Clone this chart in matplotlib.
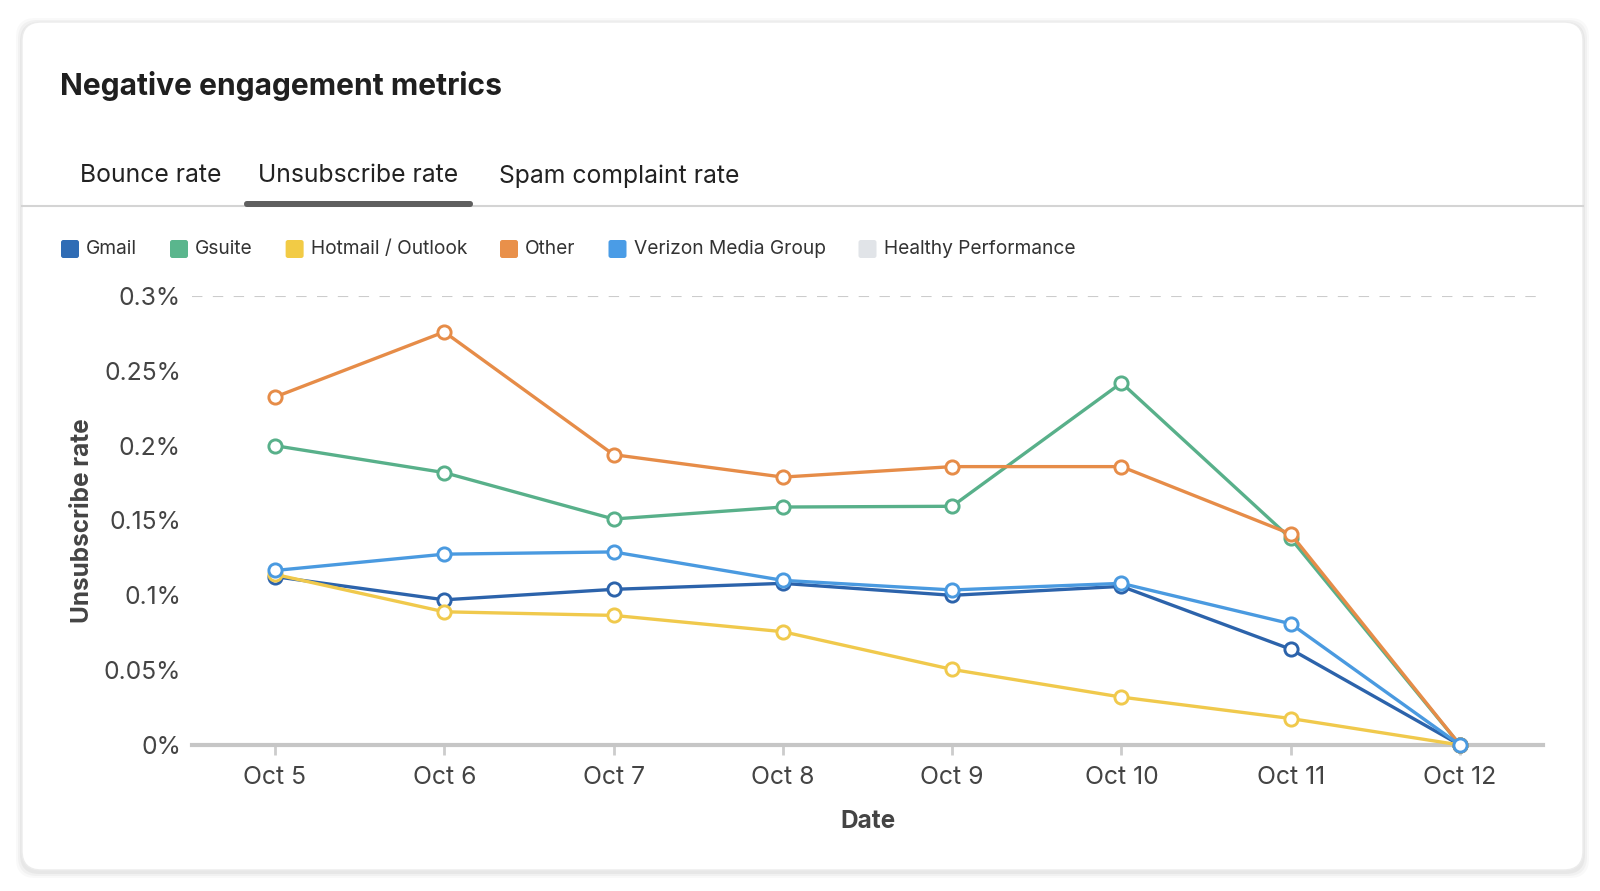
import matplotlib
matplotlib.use("Agg")
import matplotlib.pyplot as plt
from matplotlib.patches import FancyBboxPatch
from matplotlib.lines import Line2D

plt.rcParams['font.family'] = ['Inter', 'DejaVu Sans']

dates = ["Oct 5", "Oct 6", "Oct 7", "Oct 8", "Oct 9", "Oct 10", "Oct 11", "Oct 12"]
series_names = ["Gmail", "Gsuite", "Hotmail / Outlook", "Other", "Verizon Media Group"]
gmail = [0.1125, 0.097, 0.104, 0.108, 0.100, 0.106, 0.064, 0.0]
gsuite = [0.200, 0.182, 0.151, 0.159, 0.1595, 0.242, 0.138, 0.0]
hotmail = [0.114, 0.089, 0.0866, 0.0757, 0.0505, 0.032, 0.0177, 0.0]
other = [0.2325, 0.276, 0.194, 0.179, 0.186, 0.186, 0.141, 0.0]
verizon = [0.1166, 0.1275, 0.129, 0.110, 0.1036, 0.108, 0.081, 0.0]
y_ticks = [0, 0.05, 0.1, 0.15, 0.2, 0.25, 0.3]
y_tick_labels = ["0%", "0.05%", "0.1%", "0.15%", "0.2%", "0.25%", "0.3%"]
tabs = ["Bounce rate", "Unsubscribe rate", "Spam complaint rate"]
legend_names = series_names + ["Healthy Performance"]

colors = ["#2c63ab", "#58b08a", "#f0c94c", "#e68c48", "#4a9ae0"]
legend_colors = ["#2f6cb5", "#5ab68d", "#f2cb45", "#e9904a", "#4a9ce6", "#e1e4e8"]
values = [gmail, gsuite, hotmail, other, verizon]

W, H = 1600, 891
fig = plt.figure(figsize=(16, 8.91), dpi=100)
fig.patch.set_facecolor("white")

def fx(px):
    return px / W

def fy(py):
    return 1 - py / H

# card shadow + card
for i, a in enumerate([0.025, 0.03, 0.04]):
    off = 6 - 2 * i
    sh = FancyBboxPatch((fx(22 - off), fy(870 + off + 2)), fx(1561 + 2 * off), (848 + 2 * off) / H,
                        boxstyle="round,pad=0,rounding_size=0.012", transform=fig.transFigure,
                        facecolor="black", edgecolor="none", alpha=a, zorder=0,
                        mutation_aspect=W / H)
    fig.patches.append(sh)
card = FancyBboxPatch((fx(22), fy(870)), fx(1561), 848 / H,
                      boxstyle="round,pad=0,rounding_size=0.012", transform=fig.transFigure,
                      facecolor="white", edgecolor="#ececec", linewidth=1, zorder=1,
                      mutation_aspect=W / H)
fig.patches.append(card)

# title
fig.text(fx(60), fy(86), "Negative engagement metrics", fontsize=21.6, fontweight="bold",
         color="#1f1f1f", ha="left", va="center", zorder=3)

# tabs
tab_x = [80, 258, 499]
for t, x in zip(tabs, tab_x):
    fig.text(fx(x), fy(176), t, fontsize=17.8, color="#222222", ha="left", va="center", zorder=3)
fig.lines.append(Line2D([fx(22), fx(1583)], [fy(206), fy(206)], transform=fig.transFigure,
                        color="#d4d4d4", linewidth=1.5, zorder=2))
fig.patches.append(FancyBboxPatch((fx(244), fy(207)), fx(229), 6 / H,
                                  boxstyle="round,pad=0,rounding_size=0.002",
                                  transform=fig.transFigure, facecolor="#5f5f5f",
                                  edgecolor="none", zorder=3, mutation_aspect=W / H))

# axes
ax = fig.add_axes([fx(192), fy(745), fx(1543 - 192), (745 - 296) / H])
ax.set_zorder(4)
ax.patch.set_alpha(0)
x = list(range(len(dates)))
for name, vals, c in zip(series_names, values, colors):
    ax.plot(x, vals, color=c, linewidth=2.4, marker="o", markersize=9.5,
            markerfacecolor="white", markeredgecolor=c, markeredgewidth=2.1,
            clip_on=False, zorder=5, label=name)

ax.set_xlim(-0.49, len(dates) - 1 + 0.49)
ax.set_ylim(0, 0.3)
ax.set_xticks(x)
ax.set_xticklabels(dates, fontsize=17.8, color="#444444")
ax.set_yticks(y_ticks)
ax.set_yticklabels(y_tick_labels, fontsize=17.8, color="#444444")
ax.axhline(0.3, color="#cccccc", linewidth=1.5, linestyle=(0, (5, 5)), zorder=1)
for s in ["top", "right", "left"]:
    ax.spines[s].set_visible(False)
ax.spines["bottom"].set_color("#c6c6c6")
ax.spines["bottom"].set_linewidth(3)
ax.spines["bottom"].set_zorder(2)
ax.tick_params(axis="y", length=0, pad=8)
ax.tick_params(axis="x", length=7, width=2, color="#cccccc", pad=8)
ax.set_xlabel("Date", fontsize=17.5, fontweight="bold", color="#444444", labelpad=15)
ax.set_ylabel("Unsubscribe rate", fontsize=17.5, fontweight="bold", color="#444444", labelpad=7)

# legend (custom row)
fig.canvas.draw()
renderer = fig.canvas.get_renderer()
cur = 61
for name, c in zip(legend_names, legend_colors):
    sq = FancyBboxPatch((fx(cur), fy(258)), fx(18), 18 / H,
                        boxstyle="round,pad=0,rounding_size=0.0015", transform=fig.transFigure,
                        facecolor=c, edgecolor="none", zorder=3, mutation_aspect=W / H)
    fig.patches.append(sq)
    t = fig.text(fx(cur + 25), fy(249), name, fontsize=13.8, color="#333333",
                 ha="left", va="center", zorder=3)
    bb = t.get_window_extent(renderer)
    cur = bb.x1 + 33

fig.savefig("out.png", dpi=100, facecolor="white")
